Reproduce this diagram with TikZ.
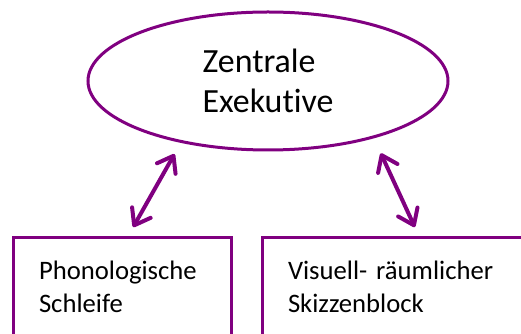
\documentclass[tikz,border=0pt]{standalone}
\usepackage{fontspec}
\setmainfont{Carlito}[Ligatures = NoCommon]
\usetikzlibrary{shapes.geometric,arrows.meta}
\definecolor{lila}{RGB}{128,0,128}
\tikzstyle{exekutivStyle}=[shape = ellipse, draw = lila, line width = 2.25pt, minimum width = 270pt, minimum height = 103.5pt, inner sep = 0pt, outer sep = 0pt, align = left, font = \fontsize{25.4}{30}\selectfont]
\tikzstyle{speicherStyle}=[shape = rectangle, draw = lila, line width = 2.25pt, anchor = north west, align = left, inner xsep = 19.5pt, inner ysep = 0pt, outer sep = 0pt, minimum height = 73.5pt, font = \fontsize{20}{24.75}\selectfont]
\tikzstyle{pfeilStyle}=[draw = lila, line width = 3pt, {Straight Barb[length = 11pt, width = 16pt, round]}-{Straight Barb[length = 11pt, width = 16pt, round]}]

\begin{document}
\begin{tikzpicture}[x = 0.75pt, y = -0.75pt]
\useasboundingbox (0,0) rectangle (521,334);
\clip (0,0) rectangle (521,334);
\node[exekutivStyle] (zentrale) at (268,81) {Zentrale\\Exekutive};
\node[speicherStyle, text width = 124.5pt] (schleife) at (13,238) {Phonologische\\Schleife};
\node[speicherStyle, text width = 184.5pt] (skizze) at (262,238) {Visuell- räumlicher\\Skizzenblock};
\draw[pfeilStyle, shorten <= 10.8pt, shorten >= 9.4pt] (zentrale.215.5) -- ([xshift = 3.75pt]schleife.north);
\draw[pfeilStyle, shorten <= 13.5pt, shorten >= 9pt] (zentrale.332.8) -- ([xshift = 6.6pt]skizze.north);
\end{tikzpicture}
\end{document}
